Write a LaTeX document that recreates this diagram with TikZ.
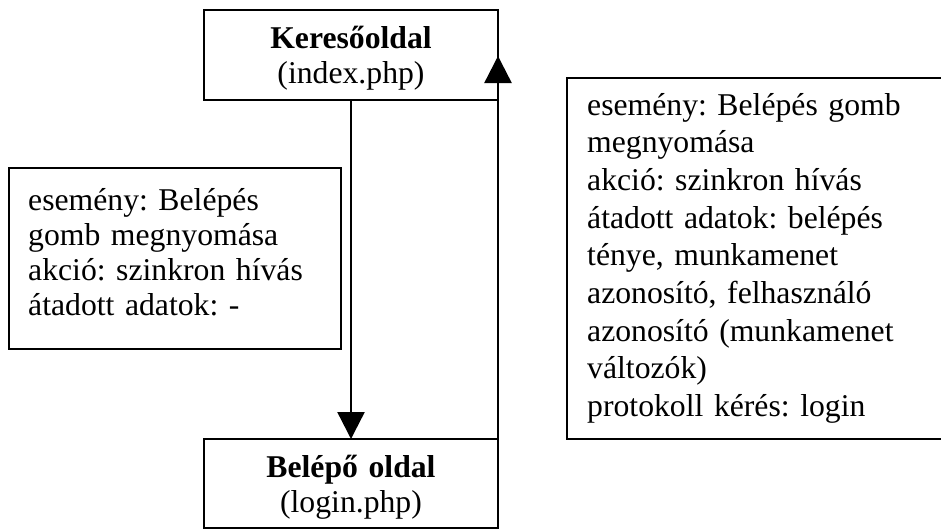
\documentclass[tikz,border=0pt]{standalone}
\usepackage{fontspec}
\setmainfont{Liberation Serif}
\usetikzlibrary{arrows.meta}
\frenchspacing
\begin{document}
\begin{tikzpicture}[x=1pt,y=-1pt,
  pagebox/.style={draw, rectangle, line width=1.8pt, inner sep=0pt, outer sep=0pt},
  flow/.style={line width=2.4pt, -{Triangle[length=27pt,width=27pt]}},
  pagetext/.style={anchor=base, inner sep=0pt, align=center, text width=290pt,
    font=\fontsize{31.7}{35}\selectfont},
  notetext/.style={anchor=base west, inner sep=0pt, align=left, text width=#1,
    font=\fontsize{31.7}{35}\selectfont},
  notetextwide/.style={anchor=base west, inner sep=0pt, align=left, text width=#1,
    font=\fontsize{31.7}{37.7}\selectfont}]
\useasboundingbox (0,0) rectangle (941,530);

% page boxes
\node[pagebox, minimum width=294pt, minimum height=90pt] (topbox) at (351,55) {};
\node[pagebox, minimum width=294pt, minimum height=89pt] (botbox) at (351,483.5) {};
\node[pagetext] (toptext) at (351,48) {\textbf{Keresőoldal}\\(index.php)};
\node[pagetext] (bottext) at (351,477) {\textbf{Belépő oldal}\\(login.php)};

% note boxes (the right one runs off the page edge)
\node[pagebox, minimum width=332pt, minimum height=181pt] (leftbox) at (175,258.5) {};
\node[pagebox, minimum width=400pt, minimum height=361pt] (rightbox) at (767,258.5) {};
\node[notetext=310pt] (lefttext) at (28,210)
  {esemény: Belépés\\gomb megnyomása\\akció: szinkron hívás\\átadott adatok: -};
\node[notetextwide=345pt] (righttext) at (587,115)
  {esemény: Belépés gomb\\megnyomása\\akció: szinkron hívás\\átadott adatok: belépés\\ténye, munkamenet\\azonosító, felhasználó\\azonosító (munkamenet\\változók)\\protokoll kérés: login};

% transitions
\coordinate (uptip) at (498,56);
\draw[flow] (topbox.south) -- (botbox.north);
\draw[flow] (botbox.north east) -- (uptip);
\end{tikzpicture}
\end{document}
